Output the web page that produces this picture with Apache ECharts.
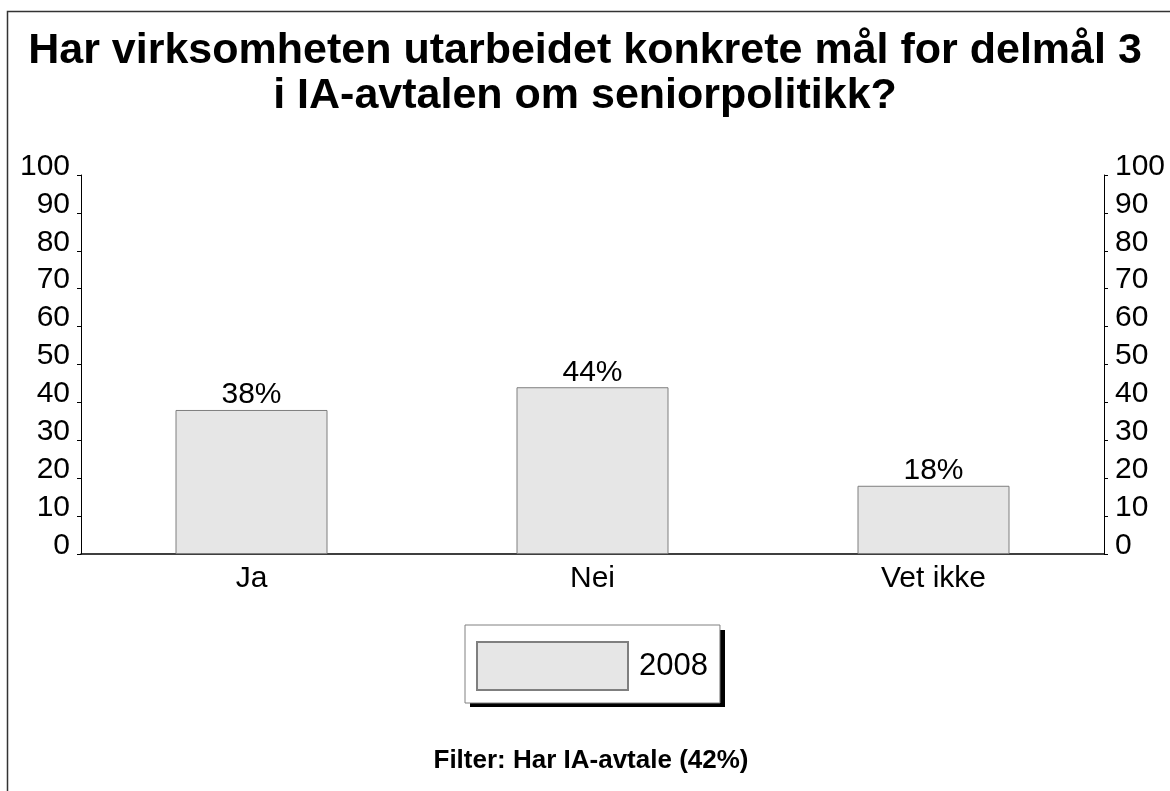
<!DOCTYPE html>
<html>
<head>
<meta charset="utf-8">
<script src="https://cdn.jsdelivr.net/npm/echarts@6/dist/echarts.min.js"></script>
<style>
  html, body { margin: 0; padding: 0; background: #fff; }
  #chart { width: 1170px; height: 791px; }
</style>
</head>
<body>
<div id="chart"></div>
<script>
var categories = ['Ja', 'Nei', 'Vet ikke'];
var values2008 = [38, 44, 18];
var seriesName = '2008';
var titleText = 'Har virksomheten utarbeidet konkrete mål for delmål 3\ni IA-avtalen om seniorpolitikk?';
var filterText = 'Filter: Har IA-avtale (42%)';

var chart = echarts.init(document.getElementById('chart'));

// the two value axes are identical apart from side
function valueAxis(pos) {
    return {
        type: 'value',
        position: pos,
        min: 0,
        max: 100,
        interval: 10,
        axisLine: { show: true, lineStyle: { color: '#000', width: 1 } },
        axisTick: { show: true, inside: false, length: 4, lineStyle: { color: '#000' } },
        axisLabel: {
            color: '#000',
            fontSize: 30,
            margin: 11,
            verticalAlign: 'bottom',
            lineHeight: 17   // text sits on the tick, like the original
        },
        splitLine: { show: false }
    };
}

var option = {
    animation: false,
    textStyle: { fontFamily: 'Liberation Sans, Arial, sans-serif' },
    title: {
        text: titleText,
        left: 'center',
        top: 24,
        textStyle: {
            fontSize: 43,
            fontWeight: 'bold',
            color: '#000',
            lineHeight: 45
        }
    },
    legend: {
        left: 465,
        top: 625,
        padding: [16, 12, 12, 11],
        itemWidth: 151,
        itemHeight: 48,
        icon: 'rect',
        backgroundColor: '#fff',
        borderColor: '#808080',
        borderWidth: 1,
        z: 5,
        textStyle: { fontSize: 31, color: '#000', padding: [0, 0, 0, 6] },
        data: [seriesName]
    },
    grid: {
        left: 81,
        right: 66,
        top: 175,
        bottom: 237,
        containLabel: false
    },
    xAxis: {
        type: 'category',
        data: categories,
        axisLine: { show: true, lineStyle: { color: '#000', width: 1.5 } },
        axisTick: { show: false },
        axisLabel: { color: '#000', fontSize: 30, margin: 10 }
    },
    yAxis: [valueAxis('left'), valueAxis('right')],
    series: [{
        type: 'bar',
        name: seriesName,
        data: values2008,
        barWidth: 152,
        itemStyle: {
            color: '#e6e6e6',
            borderColor: '#7f7f7f',
            borderWidth: 1
        },
        label: {
            show: true,
            position: 'top',
            distance: 0,
            fontSize: 30,
            color: '#000',
            formatter: '{c}%'
        }
    }],
    graphic: [
        {
            type: 'polyline',
            shape: { points: [[7.5, 791], [7.5, 11.5], [1170, 11.5]] },
            style: { stroke: '#333', lineWidth: 1.5, fill: null },
            silent: true
        },
        {
            // drop shadow behind the legend box
            type: 'rect',
            z: 1,
            shape: { x: 470, y: 630, width: 255, height: 77 },
            style: { fill: '#000' },
            silent: true
        },
        {
            type: 'text',
            style: {
                text: filterText,
                x: 591,
                y: 761,
                align: 'center',
                verticalAlign: 'middle',
                font: 'bold 26px "Liberation Sans", Arial, sans-serif',
                fill: '#000'
            }
        }
    ]
};

chart.setOption(option);
window.addEventListener('resize', function () {
    chart.resize();
});
</script>
</body>
</html>
